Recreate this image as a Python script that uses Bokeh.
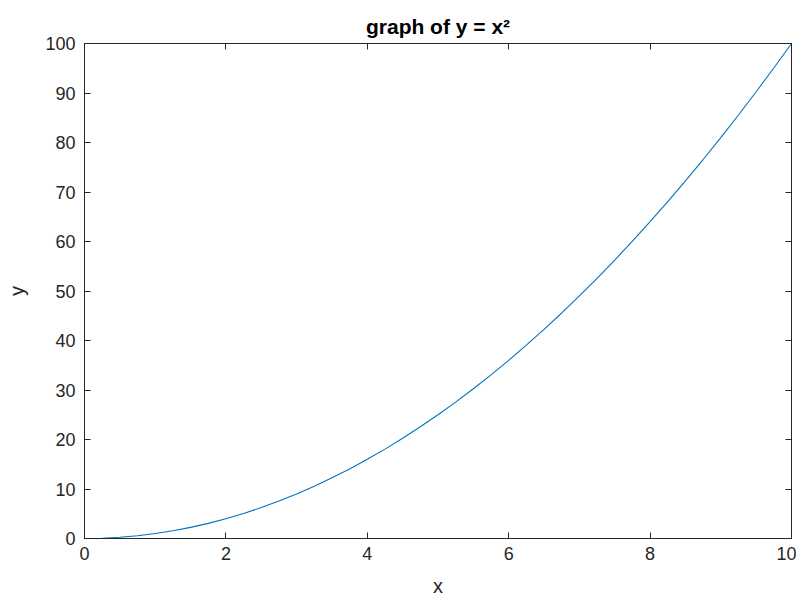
from bokeh.plotting import figure
from bokeh.models import LinearAxis, Range1d, FixedTicker
from bokeh.embed import file_html
from bokeh.resources import INLINE

x_vals = [0, 0.25, 0.5, 0.75, 1, 1.25, 1.5, 1.75, 2, 2.25, 2.5, 2.75, 3, 3.25, 3.5, 3.75,
          4, 4.25, 4.5, 4.75, 5, 5.25, 5.5, 5.75, 6, 6.25, 6.5, 6.75, 7, 7.25, 7.5, 7.75,
          8, 8.25, 8.5, 8.75, 9, 9.25, 9.5, 9.75, 10]
y_vals = [0, 0.06, 0.25, 0.56, 1, 1.56, 2.25, 3.06, 4, 5.06, 6.25, 7.56, 9, 10.56, 12.25, 14.06,
          16, 18.06, 20.25, 22.56, 25, 27.56, 30.25, 33.06, 36, 39.06, 42.25, 45.56, 49, 52.56, 56.25, 60.06,
          64, 68.06, 72.25, 76.56, 81, 85.56, 90.25, 95.06, 100]
x_ticks = [0, 2, 4, 6, 8, 10]
y_ticks = [0, 10, 20, 30, 40, 50, 60, 70, 80, 90, 100]

FONT = "Liberation Sans"
TXT = "#262626"

p = figure(frame_width=707, frame_height=495, output_backend="svg", toolbar_location=None,
           x_range=Range1d(0, 10), y_range=Range1d(0, 100),
           min_border_left=84, min_border_right=5, min_border_top=43, min_border_bottom=52,
           title="graph of y = x²")
p.title.text_font = FONT
p.title.text_font_size = "21px"
p.title.text_font_style = "bold"
p.title.text_color = "#000000"
p.title.align = "center"
p.title.offset = 0
p.title.standoff = 12
p.grid.visible = False
p.outline_line_color = TXT
p.background_fill_color = "white"
p.border_fill_color = "white"

p.line(x_vals, y_vals, line_color="#0072BD", line_width=1.1)

def style(ax, ticks, show_labels):
    ax.ticker = FixedTicker(ticks=ticks)
    ax.major_tick_in = 6
    ax.major_tick_out = 0
    ax.minor_tick_in = 0
    ax.minor_tick_out = 0
    ax.axis_line_color = TXT
    ax.major_tick_line_color = TXT
    ax.major_label_text_font = FONT
    ax.major_label_text_font_size = "18px"
    ax.major_label_text_color = TXT
    ax.axis_label_text_font = FONT
    ax.axis_label_text_font_size = "20px"
    ax.axis_label_text_font_style = "normal"
    ax.axis_label_text_color = TXT
    if not show_labels:
        ax.major_label_overrides = {t: "" for t in ticks}
        ax.major_label_standoff = 0

p.xaxis.axis_label = "x"
p.yaxis.axis_label = "y"
style(p.xaxis[0], x_ticks, True)
style(p.yaxis[0], y_ticks, True)
p.xaxis.major_label_standoff = 8
p.yaxis.major_label_standoff = 9
p.xaxis.axis_label_standoff = 12
p.yaxis.axis_label_standoff = 14

top = LinearAxis()
style(top, x_ticks, False)
p.add_layout(top, "above")
right = LinearAxis()
style(right, y_ticks, False)
p.add_layout(right, "right")

open("out.html", "w").write(file_html(p, INLINE))
